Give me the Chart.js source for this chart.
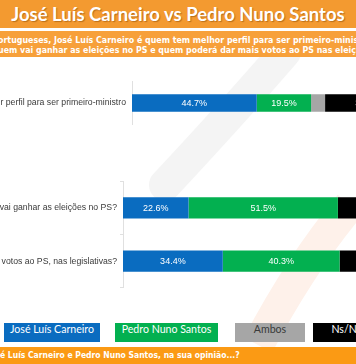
<!DOCTYPE html>
<html>
<head>
<meta charset="utf-8">
<script src="https://cdn.jsdelivr.net/npm/chart.js@4.4.0/dist/chart.umd.min.js"></script>
<style>
  html, body { margin: 0; padding: 0; }
  body { width: 356px; height: 364px; overflow: hidden; position: relative; background: #fff; }
  .band { position: absolute; left: 0; width: 356px; color: #fff; white-space: nowrap; overflow: hidden; }
  #title { top: 0; height: 28px; background: #f39a30; font: 700 18.5px 'Lato', sans-serif; text-align: center; line-height: 29px; text-shadow: 1px 1px 1px rgba(120,60,0,0.45); }
  #subtitle { top: 31px; height: 26px; background: #f7a03a; font: 700 8.8px 'DejaVu Sans Condensed', 'DejaVu Sans', sans-serif; line-height: 10px; padding-top: 4px; box-sizing: border-box; }
  #subtitle div { margin-left: -2px; }
  #footer { top: 347px; height: 17px; background: #fb9a14; font: 700 8.5px 'DejaVu Sans Condensed', 'DejaVu Sans', sans-serif; line-height: 17px; }
  #deco { position: absolute; left: 0; top: 0; }
  canvas { position: absolute; left: 0; }
  #legend div { position: absolute; top: 323px; height: 19px; line-height: 19px; text-align: center; font: 400 10.6px 'Lato', sans-serif; white-space: nowrap; overflow: hidden; }
</style>
</head>
<body>
<svg id="deco" width="356" height="364">
  <path d="M285 52 Q235 110 165 185" stroke="#f4f4f4" stroke-width="32" fill="none" stroke-linecap="round"/>
  <path d="M350 205 Q300 265 258 345" stroke="#fef1ea" stroke-width="32" fill="none"/>
</svg>
<div id="title" class="band">José Luís Carneiro vs Pedro Nuno Santos</div>
<div id="subtitle" class="band">
  <div>ortugueses, José Luís Carneiro é quem tem melhor perfil para ser primeiro-ministro</div>
  <div>uem vai ganhar as eleições no PS e quem poderá dar mais votos ao PS nas eleições</div>
</div>
<canvas id="chart1" width="411" height="66" style="top:70px"></canvas>
<canvas id="chart2" width="413" height="123" style="top:173px"></canvas>
<div id="legend"></div>
<div id="footer" class="band">é Luís Carneiro e Pedro Nuno Santos, na sua opinião...?</div>
<script>
const seriesNames = ['José Luís Carneiro', 'Pedro Nuno Santos', 'Ambos', 'Ns/Nr'];
const seriesColors = ['#0a6cc0', '#03b050', '#a6a6a6', '#000000'];

// first question (own little chart)
const questions1 = ['r perfil para ser primeiro-ministro'];
const carneiro1 = [44.7];
const santos1 = [19.5];
const ambos1 = [5.0];
const nsnr1 = [30.8];

// second and third question
const questions2 = ['vai ganhar as eleições no PS?', 'votos ao PS, nas legislativas?'];
const carneiro2 = [22.6, 34.4];
const santos2 = [51.5, 40.3];
const ambos2 = [0, 0];
const nsnr2 = [25.9, 25.3];

const segmentLabels = {
  id: 'segmentLabels',
  afterDatasetsDraw(chart) {
    const ctx = chart.ctx;
    ctx.save();
    ctx.font = '9px "Liberation Sans", Arial, sans-serif';
    ctx.fillStyle = '#ffffff';
    ctx.textAlign = 'center';
    ctx.textBaseline = 'middle';
    chart.data.datasets.forEach((ds, i) => {
      chart.getDatasetMeta(i).data.forEach((bar, j) => {
        const v = ds.data[j];
        if (v < 10) return;
        const p = bar.getProps(['x', 'y', 'base'], true);
        ctx.fillText(v.toFixed(1) + '%', (p.x + p.base) / 2, p.y + 0.5);
      });
    });
    ctx.restore();
  }
};

const makeChart = (id, labels, values, axisWidth, tickLen, labelSize) => {
  const data = {
    labels: labels,
    datasets: values.map((vals, i) => ({
      label: seriesNames[i],
      data: vals,
      backgroundColor: seriesColors[i],
      borderWidth: 0,
      barPercentage: 0.4,
      categoryPercentage: 1
    }))
  };
  return new Chart(document.getElementById(id), {
    type: 'bar',
    data: data,
    options: {
      indexAxis: 'y',
      responsive: false,
      animation: false,
      layout: { padding: 0 },
      plugins: { legend: { display: false }, tooltip: { enabled: false } },
      scales: {
        x: { stacked: true, min: 0, max: 100, display: false },
        y: {
          stacked: true,
          border: { color: '#e0e0e0' },
          grid: { drawOnChartArea: false, color: '#e0e0e0', tickLength: tickLen },
          ticks: { color: '#3a3a3a', padding: 6 - tickLen, font: { family: '"Liberation Sans", Arial, sans-serif', size: labelSize } },
          afterFit: scale => { scale.width = axisWidth; }
        }
      }
    },
    plugins: [segmentLabels]
  });
};

makeChart('chart1', questions1, [carneiro1, santos1, ambos1, nsnr1], 132, 0, 8.7);
makeChart('chart2', questions2, [carneiro2, santos2, ambos2, nsnr2], 123, 3, 8.7);

// legend boxes
const legendLeft = [4, 115, 235, 313];
const legendWidth = [96, 103, 70, 66];
const legend = document.getElementById('legend');
seriesNames.forEach((name, i) => {
  const d = document.createElement('div');
  d.textContent = name;
  d.style.left = legendLeft[i] + 'px';
  d.style.width = legendWidth[i] + 'px';
  d.style.background = seriesColors[i];
  d.style.color = name === 'Ambos' ? '#3a3a3a' : '#fff';
  legend.appendChild(d);
});
</script>
</body>
</html>
